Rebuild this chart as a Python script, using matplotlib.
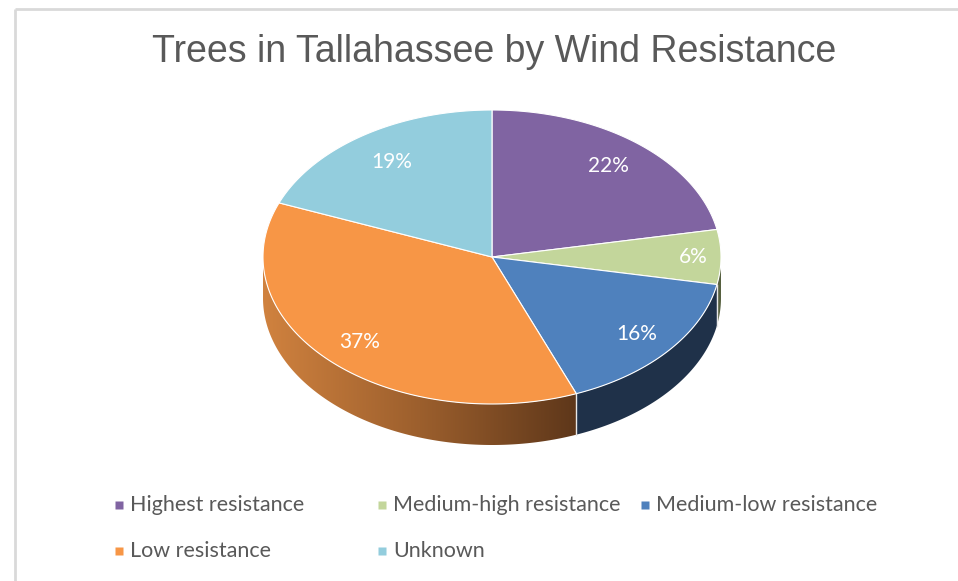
import numpy as np
import matplotlib.pyplot as plt
from matplotlib.patches import Polygon
from matplotlib.colors import LinearSegmentedColormap

categories = ["Highest resistance", "Medium-high resistance", "Medium-low resistance",
              "Low resistance", "Unknown"]
shares = [22, 6, 16, 37, 19]
top_colors = ["#8064a2", "#c3d69b", "#4f81bd", "#f79646", "#93cddd"]
side_colors = ["#3e2f52", "#56603f", "#1f3149", None, "#3f6470"]
label_radius = [0.80, 0.88, 0.82, 0.82, 0.78]

title = "Trees in Tallahassee by Wind Resistance"

fig = plt.figure(figsize=(9.58, 5.81), dpi=100)
ax = fig.add_axes([0, 0, 1, 1])
ax.axis("off")

# pie geometry in pixel space (y grows downward)
cx, cy, rx, ry, depth = 492, 257, 229, 147, 41


def rim(t):
    return cx + rx * np.sin(t), cy - ry * np.cos(t)


bounds = np.radians(np.concatenate([[0], np.cumsum(shares)]) / sum(shares) * 360)

# side walls of the front half
side_cmap = LinearSegmentedColormap.from_list("side", ["#d0823f", "#9c5f2d", "#5e371a"])
for i in range(len(shares)):
    lo = max(bounds[i], np.pi / 2)
    hi = min(bounds[i + 1], 3 * np.pi / 2)
    if hi <= lo:
        continue
    t = np.linspace(lo, hi, 200)
    x, y = rim(t)
    pts = np.column_stack([np.concatenate([x, x[::-1]]),
                           np.concatenate([y, y[::-1] + depth])])
    if side_colors[i] is None:
        patch = Polygon(pts, closed=True, facecolor="none", edgecolor="none")
        ax.add_patch(patch)
        grad = np.linspace(0, 1, 256).reshape(1, -1)
        im = ax.imshow(grad, cmap=side_cmap, aspect="auto",
                       extent=[x.min(), x.max(), y.max() + depth, y.min()])
        im.set_clip_path(patch)
    else:
        ax.add_patch(Polygon(pts, closed=True, facecolor=side_colors[i],
                             edgecolor="none"))

# white seams on the side
for b in bounds[1:-1]:
    if np.pi / 2 < b < 3 * np.pi / 2:
        x, y = rim(b)
        ax.plot([x, x], [y, y + depth], color="#e8e8e8", lw=1)

# top face
for i in range(len(shares)):
    t = np.linspace(bounds[i], bounds[i + 1], 200)
    x, y = rim(t)
    pts = np.column_stack([np.concatenate([[cx], x]), np.concatenate([[cy], y])])
    ax.add_patch(Polygon(pts, closed=True, facecolor=top_colors[i],
                         edgecolor="white", lw=0.8, joinstyle="round"))

    mid = (bounds[i] + bounds[i + 1]) / 2
    lx = cx + rx * label_radius[i] * np.sin(mid)
    ly = cy - ry * label_radius[i] * np.cos(mid)
    ax.text(lx, ly, f"{shares[i]}%", color="white", fontsize=15,
            family=["Lato", "DejaVu Sans"], ha="center", va="center")

ax.text(494, 52, title, color="#595959", fontsize=27,
        family=["Liberation Sans Narrow", "Liberation Sans", "DejaVu Sans"],
        ha="center", va="center")

# legend
for i, name in enumerate(categories):
    row, col = divmod(i, 3)
    mx = 119 + col * 263
    my = 505 + row * 46
    ax.plot(mx, my, marker="s", ms=6, color=top_colors[i], mec="none")
    ax.text(mx + 11, my, name, color="#595959", fontsize=15.5,
            family=["Lato", "DejaVu Sans"], ha="left", va="center")

# chart frame
ax.plot([15, 15], [581, 9], color="#d9d9d9", lw=2, solid_capstyle="butt")
ax.plot([15, 958], [9, 9], color="#d9d9d9", lw=2, solid_capstyle="butt")

ax.set_xlim(0, 958)
ax.set_ylim(581, 0)
fig.savefig("out.png", dpi=100, facecolor="white")
